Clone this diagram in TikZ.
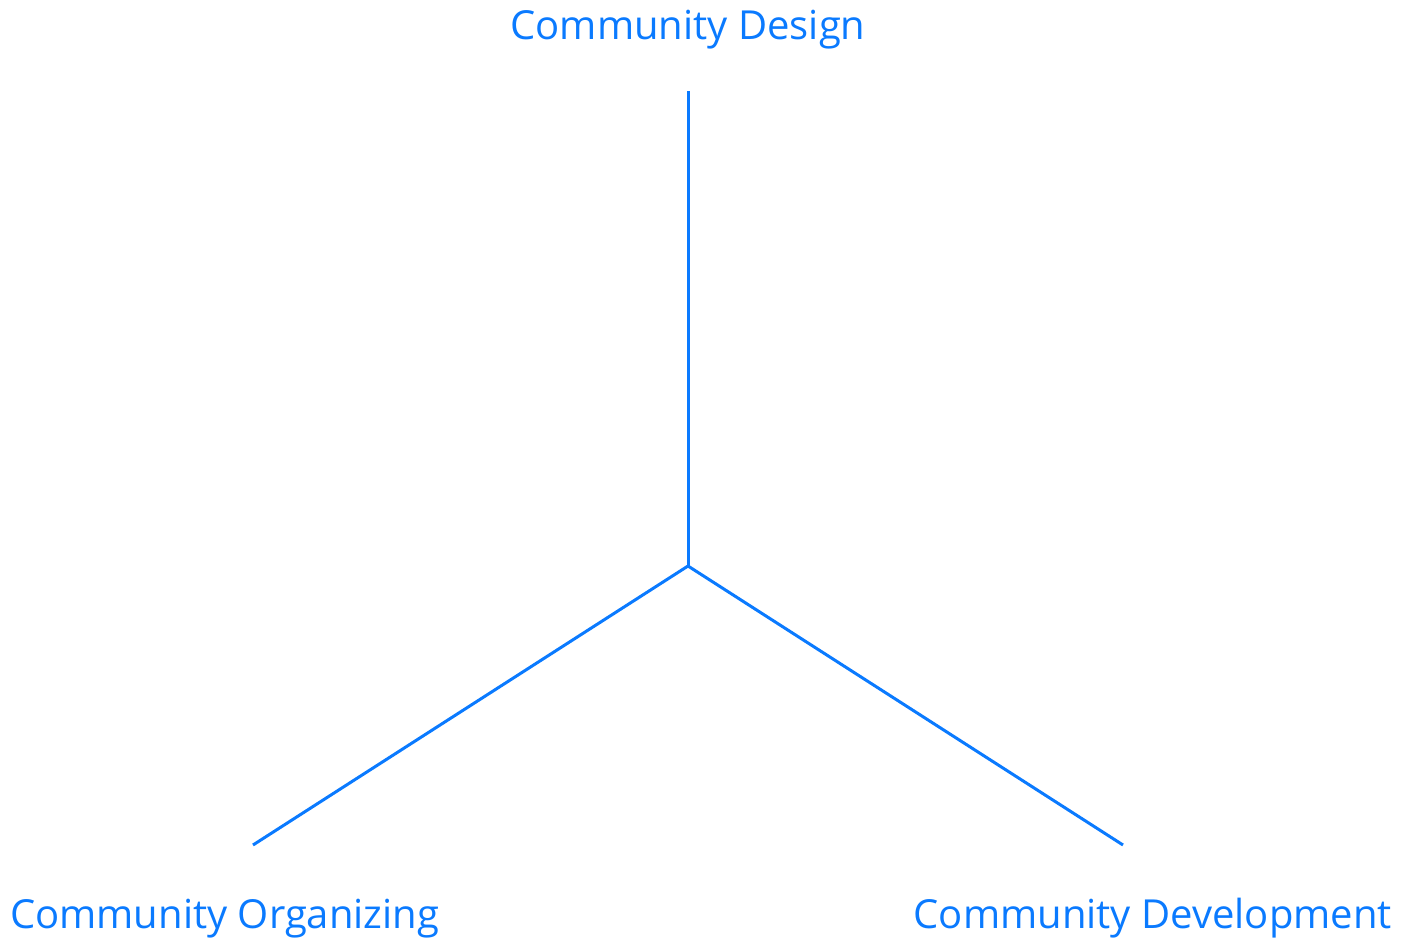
\documentclass[tikz,border=0pt]{standalone}
\usepackage{fontspec}
\setmainfont{Open Sans}
\usepackage{tikz}
\usetikzlibrary{positioning}
\definecolor{tripleblue}{RGB}{10,122,255}

\begin{document}
\begin{tikzpicture}[x=1pt, y=-1pt]

    % Define styles
    \tikzset{
        area/.style={text=tripleblue, font=\fontsize{40}{44}\selectfont, inner sep=0pt},
        spoke/.style={draw=tripleblue, line width=3pt}
    }

    \useasboundingbox (0,0) rectangle (1417,942);

    % Hub and spoke ends
    \coordinate (hub) at (688,566);
    \coordinate (design_end) at (688,91);
    \coordinate (organizing_end) at (253,845);
    \coordinate (development_end) at (1123,845);

    % Labels
    \node [area, anchor=base] (design) at (688,40) {Community Design};
    \node [area, anchor=base west] (organizing) at (10,928) {Community Organizing};
    \node [area, anchor=base east] (development) at (1392,928) {Community Development};

    % Spokes
    \draw [spoke] (hub) -- (design_end);
    \draw [spoke] (hub) -- (organizing_end);
    \draw [spoke] (hub) -- (development_end);

\end{tikzpicture}
\end{document}
